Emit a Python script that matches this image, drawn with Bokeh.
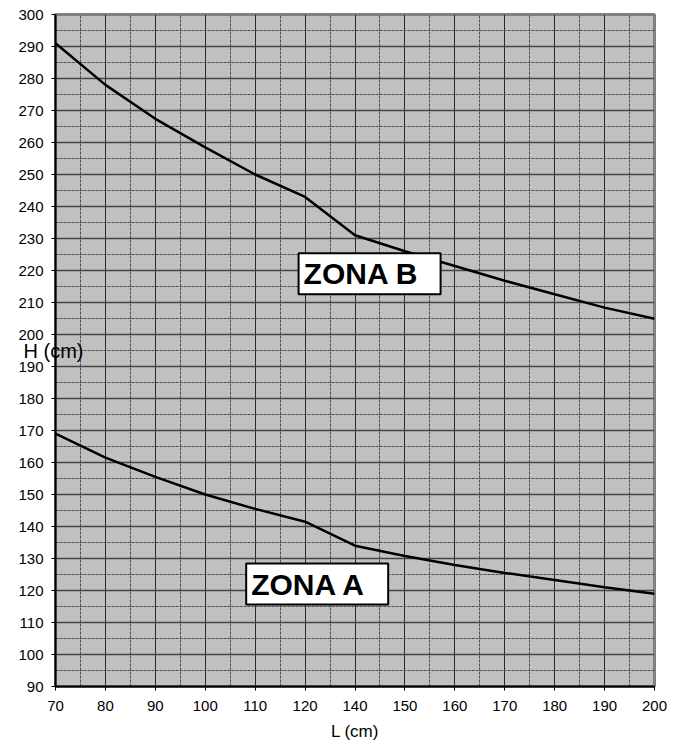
from bokeh.plotting import figure
from bokeh.models import Range1d, FixedTicker, Label
from bokeh.embed import file_html
from bokeh.resources import INLINE

# Data (x axis is categorical: 130 is absent)
L_labels = ["70", "80", "90", "100", "110", "120", "140", "150",
            "160", "170", "180", "190", "200"]
H_zona_b = [291, 278, 267.4, 258.5, 250, 243, 231, 226, 221.4, 216.8, 212.6, 208.4, 204.9]
H_zona_a = [169, 161.5, 155.5, 150, 145.5, 141.5, 134, 130.8, 128, 125.5, 123.3, 121, 119]

y_ticks = [90, 100, 110, 120, 130, 140, 150, 160, 170, 180, 190, 200,
           210, 220, 230, 240, 250, 260, 270, 280, 290, 300]
y_minor = [95, 105, 115, 125, 135, 145, 155, 165, 175, 185, 195, 205,
           215, 225, 235, 245, 255, 265, 275, 285, 295]

x_pos = list(range(len(L_labels)))
x_minor = [i + 0.5 for i in x_pos[:-1]]

FONT = "Liberation Sans"

p = figure(width=675, height=745, output_backend="svg", toolbar_location=None,
           x_range=Range1d(x_pos[0], x_pos[-1]), y_range=Range1d(90, 300),
           min_border_left=55, min_border_top=14, min_border_right=21,
           min_border_bottom=59)

p.background_fill_color = "#c0c0c0"
p.border_fill_color = "white"
p.outline_line_color = "#808080"
p.outline_line_width = 3

p.xaxis.ticker = FixedTicker(ticks=x_pos, minor_ticks=x_minor)
p.xaxis.major_label_overrides = {i: lab for i, lab in zip(x_pos, L_labels)}
p.yaxis.ticker = FixedTicker(ticks=y_ticks, minor_ticks=y_minor)

for ax in (p.xaxis, p.yaxis):
    ax.axis_line_color = "black"
    ax.axis_line_width = 2
    ax.major_tick_line_color = "black"
    ax.major_tick_line_width = 1
    ax.major_tick_out = 4
    ax.major_tick_in = 0
    ax.minor_tick_line_color = None
    ax.major_label_text_font = FONT
    ax.major_label_text_font_size = "15px"
    ax.major_label_text_color = "black"
    ax.axis_label_text_color = "black"

p.xaxis.major_label_standoff = 10
p.yaxis.major_label_standoff = 8

p.xaxis.axis_label = "L (cm)"
p.xaxis.axis_label_text_font = FONT
p.xaxis.axis_label_text_font_size = "17px"
p.xaxis.axis_label_text_font_style = "normal"
p.xaxis.axis_label_standoff = 8

p.yaxis.axis_label = "H (cm)"
p.yaxis.axis_label_orientation = "horizontal"
p.yaxis.axis_label_text_font = FONT
p.yaxis.axis_label_text_font_size = "20px"
p.yaxis.axis_label_text_font_style = "normal"
p.yaxis.axis_label_standoff = -68

p.xgrid.grid_line_color = "#2a2a2a"
p.xgrid.grid_line_width = 1
p.ygrid.grid_line_color = "#454545"
p.ygrid.grid_line_width = 1.5
for g in (p.xgrid, p.ygrid):
    g.minor_grid_line_color = "#505050"
    g.minor_grid_line_dash = "3 1"
    g.minor_grid_line_width = 1

p.line(x_pos, H_zona_b, line_color="black", line_width=2.5)
p.line(x_pos, H_zona_a, line_color="black", line_width=2.5)

p.add_layout(Label(x=4.87, y=219.0, text="ZONA B", text_font=FONT,
                   text_font_size="30px", text_font_style="bold",
                   text_color="black",
                   text_baseline="middle", text_align="left",
                   background_fill_color="white", border_line_color="black",
                   border_line_width=2,
                   padding=dict(left=5, right=22, top=4, bottom=4)))

p.add_layout(Label(x=3.82, y=122.0, text="ZONA A", text_font=FONT,
                   text_font_size="30px", text_font_style="bold",
                   text_color="black",
                   text_baseline="middle", text_align="left",
                   background_fill_color="white", border_line_color="black",
                   border_line_width=2,
                   padding=dict(left=5, right=22, top=4, bottom=4)))

open("out.html", "w").write(file_html(p, INLINE))
